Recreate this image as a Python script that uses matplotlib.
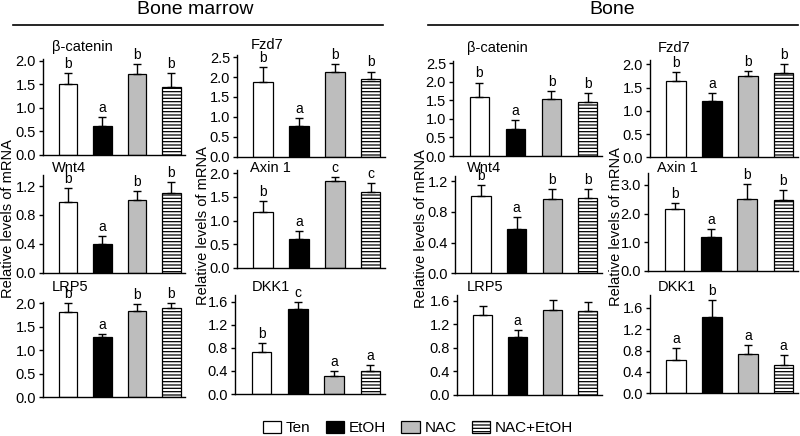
import matplotlib
matplotlib.use('Agg')
import matplotlib.pyplot as plt
from matplotlib.patches import Patch
from matplotlib.lines import Line2D
import numpy as np

plt.rcParams['font.family'] = ['Liberation Sans', 'DejaVu Sans']
plt.rcParams['hatch.linewidth'] = 0.9

groups = ['Ten', 'EtOH', 'NAC', 'NAC+EtOH']
tissues = ['Bone marrow', 'Bone']
ylabel = 'Relative levels of mRNA'

# ---- Bone marrow ----
bm_bcat_mean = [1.52, 0.62, 1.72, 1.44]
bm_bcat_err = [0.22, 0.18, 0.22, 0.30]
bm_bcat_sig = ['b', 'a', 'b', 'b']

bm_fzd7_mean = [1.88, 0.77, 2.12, 1.96]
bm_fzd7_err = [0.37, 0.21, 0.20, 0.18]
bm_fzd7_sig = ['b', 'a', 'b', 'b']

bm_wnt4_mean = [0.98, 0.40, 1.00, 1.11]
bm_wnt4_err = [0.19, 0.11, 0.13, 0.14]
bm_wnt4_sig = ['b', 'a', 'b', 'b']

bm_axin_mean = [1.19, 0.60, 1.83, 1.60]
bm_axin_err = [0.22, 0.18, 0.10, 0.20]
bm_axin_sig = ['b', 'a', 'c', 'c']

bm_lrp5_mean = [1.81, 1.28, 1.84, 1.89]
bm_lrp5_err = [0.19, 0.07, 0.15, 0.12]
bm_lrp5_sig = ['b', 'a', 'b', 'b']

bm_dkk1_mean = [0.72, 1.47, 0.31, 0.40]
bm_dkk1_err = [0.16, 0.13, 0.09, 0.11]
bm_dkk1_sig = ['b', 'c', 'a', 'a']

# ---- Bone ----
bo_bcat_mean = [1.58, 0.73, 1.54, 1.46]
bo_bcat_err = [0.40, 0.24, 0.22, 0.23]
bo_bcat_sig = ['b', 'a', 'b', 'b']

bo_fzd7_mean = [1.65, 1.20, 1.74, 1.82]
bo_fzd7_err = [0.19, 0.18, 0.11, 0.18]
bo_fzd7_sig = ['b', 'a', 'b', 'b']

bo_wnt4_mean = [1.00, 0.57, 0.97, 0.98]
bo_wnt4_err = [0.15, 0.16, 0.13, 0.12]
bo_wnt4_sig = ['b', 'a', 'b', 'b']

bo_axin_mean = [2.15, 1.19, 2.52, 2.47]
bo_axin_err = [0.23, 0.26, 0.50, 0.35]
bo_axin_sig = ['b', 'a', 'b', 'b']

bo_lrp5_mean = [1.36, 0.99, 1.44, 1.42]
bo_lrp5_err = [0.15, 0.12, 0.17, 0.16]
bo_lrp5_sig = ['', 'a', '', '']

bo_dkk1_mean = [0.63, 1.43, 0.73, 0.53]
bo_dkk1_err = [0.22, 0.31, 0.17, 0.18]
bo_dkk1_sig = ['a', 'b', 'a', 'a']

panels = [
    # title, mean, err, sig, ymax, tick step
    ('β-catenin', bm_bcat_mean, bm_bcat_err, bm_bcat_sig, 2.05, 0.5),
    ('Fzd7', bm_fzd7_mean, bm_fzd7_err, bm_fzd7_sig, 2.55, 0.5),
    ('β-catenin', bo_bcat_mean, bo_bcat_err, bo_bcat_sig, 2.55, 0.5),
    ('Fzd7', bo_fzd7_mean, bo_fzd7_err, bo_fzd7_sig, 2.1, 0.5),
    ('Wnt4', bm_wnt4_mean, bm_wnt4_err, bm_wnt4_sig, 1.35, 0.4),
    ('Axin 1', bm_axin_mean, bm_axin_err, bm_axin_sig, 2.07, 0.5),
    ('Wnt4', bo_wnt4_mean, bo_wnt4_err, bo_wnt4_sig, 1.26, 0.4),
    ('Axin 1', bo_axin_mean, bo_axin_err, bo_axin_sig, 3.4, 1.0),
    ('LRP5', bm_lrp5_mean, bm_lrp5_err, bm_lrp5_sig, 2.03, 0.5),
    ('DKK1', bm_dkk1_mean, bm_dkk1_err, bm_dkk1_sig, 1.72, 0.4),
    ('LRP5', bo_lrp5_mean, bo_lrp5_err, bo_lrp5_sig, 1.70, 0.4),
    ('DKK1', bo_dkk1_mean, bo_dkk1_err, bo_dkk1_sig, 1.84, 0.4),
]

# layout in pixels: left, right, zero line y, top y
rects = [
    (43, 185, 155.0, 58.6), (237, 385, 156.7, 55.2), (453, 602, 156.0, 61.4), (650, 798, 157.3, 59.6),
    (43, 185, 272.7, 175.2), (237, 385, 267.7, 170.0), (455, 602, 273.3, 176.4), (648, 798, 270.7, 173.5),
    (43, 185, 397.3, 301.9), (235, 385, 394.0, 294.8), (457, 602, 395.0, 294.9), (650, 798, 393.3, 294.9),
]
title_pos = [
    (52, 47), (251, 45), (467, 48), (658, 48),
    (52, 168), (250, 168), (467, 168), (657, 168),
    (52, 287), (252, 287), (467, 287), (658, 287),
]

W, H = 800, 436
fig = plt.figure(figsize=(W / 100, H / 100), dpi=100)

facecolors = ['white', 'black', '#bdbdbd', 'white']
hatches = [None, None, None, '-----']

for (title, mean, err, sig, ymax, step), (l, r, z, t), (tx, ty) in zip(panels, rects, title_pos):
    ax = fig.add_axes([l / W, 1 - z / H, (r - l) / W, (z - t) / H])
    x = np.arange(len(groups))
    for i in range(len(groups)):
        ax.bar(x[i], mean[i], width=0.54, color=facecolors[i], edgecolor='black',
               linewidth=0.9, hatch=hatches[i], zorder=2)
    ax.errorbar(x, mean, yerr=[np.zeros(len(mean)), err], fmt='none', ecolor='black',
                elinewidth=1.0, capsize=3, capthick=1.0, zorder=3)
    for i, s in enumerate(sig):
        if s:
            ax.annotate(s, (x[i], mean[i] + err[i]), xytext=(0, 1.5), textcoords='offset points',
                        ha='center', va='bottom', fontsize=10)
    ax.set_xlim(-0.73, 3.40)
    ax.set_ylim(0, ymax)
    ticks = np.arange(0, ymax + 1e-9, step)
    ax.set_yticks(ticks)
    ax.set_yticklabels([f'{v:.1f}' for v in ticks], fontsize=10.5)
    ax.set_xticks([])
    for sp in ['top', 'right']:
        ax.spines[sp].set_visible(False)
    for sp in ['left', 'bottom']:
        ax.spines[sp].set_linewidth(1.0)
    ax.tick_params(axis='y', direction='out', length=3, width=1.0, pad=2)
    ax.patch.set_alpha(0)
    fig.text(tx / W, 1 - ty / H, title, fontsize=10.5, ha='left', va='center')

# y labels
for (cx, cy) in [(8, 219), (203, 226), (421, 229), (616, 227)]:
    fig.text(cx / W, 1 - cy / H, ylabel, rotation=90, ha='center', va='center', fontsize=10.5)

# tissue headers
for name, (cx, x0, x1) in zip(tissues, [(195, 13, 383), (612, 428, 798)]):
    fig.text(cx / W, 1 - 10 / H, name, ha='center', va='center', fontsize=14)
    fig.add_artist(Line2D([x0 / W, x1 / W], [1 - 25 / H, 1 - 25 / H], color='black', linewidth=1.2))

handles = [Patch(facecolor=facecolors[i], edgecolor='black', hatch=hatches[i], linewidth=0.9)
           for i in range(len(groups))]
fig.legend(handles, groups, loc='center', bbox_to_anchor=(418 / W, 1 - 428 / H), ncol=4,
           frameon=False, fontsize=11, handlelength=1.2, handleheight=0.85,
           handletextpad=0.3, columnspacing=1.0, borderpad=0)

fig.savefig('out.png', dpi=100)
